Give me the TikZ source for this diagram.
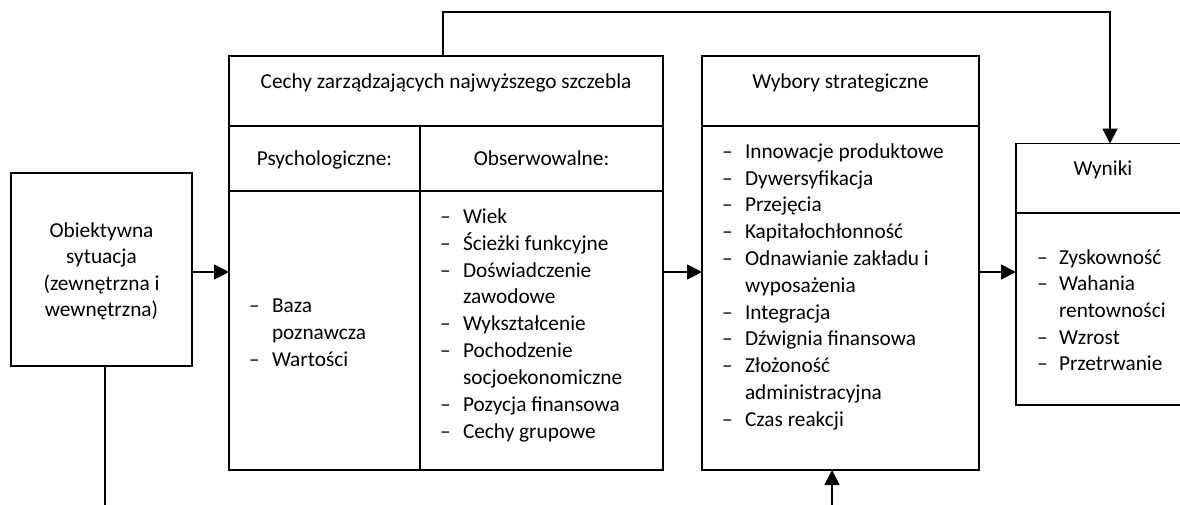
\documentclass[tikz,border=0pt]{standalone}
\usepackage{fontspec}
\setmainfont{Carlito}
\usetikzlibrary{arrows.meta}
\begin{document}
\begin{tikzpicture}[x=1pt,y=-1pt,
  every node/.style={font=\fontsize{21.3pt}{26.8pt}\selectfont, inner sep=0pt, outer sep=0pt},
  cell/.style={draw, line width=1.8pt, anchor=north west},
  txt/.style={anchor=base},
  itm/.style={anchor=base west},
  link/.style={line width=1.8pt},
  arr/.style={link, -{Triangle[length=15pt,width=15pt]}},
]
\clip (0,0) rectangle (1180,504);

% boxes
\node[cell, minimum width=181pt, minimum height=193pt] (obj) at (11,173) {};
\node[cell, minimum width=434pt, minimum height=70pt] (cechyHead) at (229,56) {};
\node[cell, minimum width=191pt, minimum height=65pt] (psychHead) at (229,126) {};
\node[cell, minimum width=243pt, minimum height=65pt] (obsHead) at (420,126) {};
\node[cell, minimum width=191pt, minimum height=279pt] (psychBody) at (229,191) {};
\node[cell, minimum width=243pt, minimum height=279pt] (obsBody) at (420,191) {};
\node[cell, minimum width=277pt, minimum height=70pt] (wybHead) at (702,56) {};
\node[cell, minimum width=277pt, minimum height=344pt] (wybBody) at (702,126) {};
\node[cell, minimum width=174pt, minimum height=69.5pt] (wynHead) at (1016,143.5) {};
\node[cell, minimum width=174pt, minimum height=192pt] (wynBody) at (1016,213) {};

% headings
\node[txt] (cechyT) at (446,88.3) {Cechy zarządzających najwyższego szczebla};
\node[txt] (psychT) at (324.5,165) {Psychologiczne:};
\node[txt] (obsT) at (541.5,165) {Obserwowalne:};
\node[txt] (wybT) at (840.5,88.3) {Wybory strategiczne};
\node[txt] (wynT) at (1103,175) {Wyniki};

% situation box text
\foreach [count=\i] \t in {{Obiektywna},{sytuacja},{(zewnętrzna i},{wewnętrzna)}} {
  \pgfmathsetmacro\yy{237.3+(\i-1)*26.4}
  \node[txt] (obj-\i) at (101.5,\yy) {\t};
}

% lists: 1 = new item with a dash, 0 = continuation line
\foreach [count=\i] \d/\t in {1/Baza,0/poznawcza,1/Wartości} {
  \pgfmathsetmacro\yy{312.5+(\i-1)*26.8}
  \node[itm] (psy-\i) at (272,\yy) {\t};
  \ifnum\d=1 \node[itm] (psy-dash-\i) at (249,\yy) {–};\fi
}
\foreach [count=\i] \d/\t in {1/Wiek,1/Ścieżki funkcyjne,1/Doświadczenie,0/zawodowe,1/Wykształcenie,1/Pochodzenie,0/socjoekonomiczne,1/Pozycja finansowa,1/Cechy grupowe} {
  \pgfmathsetmacro\yy{223.3+(\i-1)*26.875}
  \node[itm] (obs-\i) at (463,\yy) {\t};
  \ifnum\d=1 \node[itm] (obs-dash-\i) at (440,\yy) {–};\fi
}
\foreach [count=\i] \d/\t in {1/Innowacje produktowe,1/Dywersyfikacja,1/Przejęcia,1/Kapitałochłonność,1/Odnawianie zakładu i,0/wyposażenia,1/Integracja,1/Dźwignia finansowa,1/Złożoność,0/administracyjna,1/Czas reakcji} {
  \pgfmathsetmacro\yy{158.3+(\i-1)*26.8}
  \node[itm] (wyb-\i) at (745,\yy) {\t};
  \ifnum\d=1 \node[itm] (wyb-dash-\i) at (722,\yy) {–};\fi
}
\foreach [count=\i] \d/\t in {1/Zyskowność,1/Wahania,0/rentowności,1/Wzrost,1/Przetrwanie} {
  \pgfmathsetmacro\yy{264+(\i-1)*26.7}
  \node[itm] (wyn-\i) at (1059,\yy) {\t};
  \ifnum\d=1 \node[itm] (wyn-dash-\i) at (1037,\yy) {–};\fi
}

% connectors
\coordinate (row) at (0,272);
\coordinate (topL) at (443,12);
\coordinate (topR) at (1110,12);
\coordinate (botL) at (105,530);
\coordinate (botR) at (832,530);
\draw[arr] (obj.east |- row) -- (psychBody.west |- row);
\draw[arr] (obsBody.east |- row) -- (wybBody.west |- row);
\draw[arr] (wybBody.east |- row) -- (wynBody.west |- row);
\draw[arr] (cechyHead.north -| topL) -- (topL) -- (topR) -- (wynHead.north -| topR);
\draw[arr] (obj.south -| botL) -- (botL) -- (botR) -- (wybBody.south -| botR);
\end{tikzpicture}
\end{document}
